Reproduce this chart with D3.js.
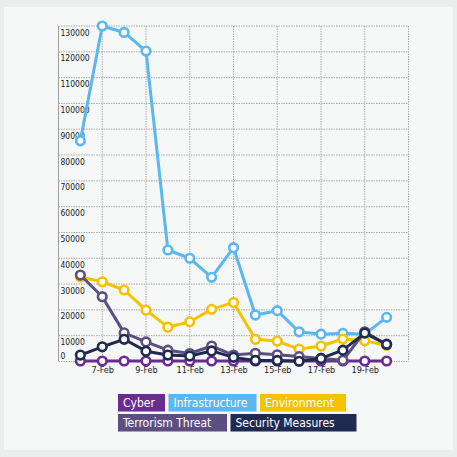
<!DOCTYPE html>
<html>
<head>
<meta charset="utf-8">
<script src="https://cdn.jsdelivr.net/npm/d3@7"></script>
<style>
  body { margin: 0; background: #eceeee; }
  svg { display: block; }
</style>
</head>
<body>
<svg id="chart"></svg>
<script>
// data
let days = ["2014-02-06", "2014-02-07", "2014-02-08", "2014-02-09", "2014-02-10", "2014-02-11", "2014-02-12",
    "2014-02-13", "2014-02-14", "2014-02-15", "2014-02-16", "2014-02-17", "2014-02-18", "2014-02-19", "2014-02-20"]
let cyber = [200, 200, 200, 200, 200, 200, 200, 200, 200, 200, 200, 200, 200, 200, 200]
let infrastructure = [85500, 130000, 127500, 120300, 43200, 40000, 32600, 44100, 18000, 19700, 11500, 10600, 10900, 10600, 17100]
let environment = [32800, 30900, 27700, 19900, 13300, 15400, 20200, 22900, 8600, 7900, 4800, 6000, 8700, 8000, 6300]
let terrorism = [33500, 25100, 11100, 7600, 4400, 3100, 6000, 2500, 3200, 2600, 1900, 1200, 500, 11500, 6500]
let security = [2500, 5700, 8600, 4000, 2500, 2100, 4100, 1600, 400, 400, 100, 1200, 4400, 11000, 6700]
let seriesNames = ["Cyber", "Infrastructure", "Environment", "Terrorism Threat", "Security Measures"]
let seriesColors = ["#6a2c91", "#5ab7f0", "#f5c200", "#5c4f80", "#1f2a50"]
let yTicks = [0, 10000, 20000, 30000, 40000, 50000, 60000, 70000, 80000, 90000, 100000, 110000, 120000, 130000]

let width = 457
let height = 457
let plot = {left: 58.5, right: 408.5, top: 26, bottom: 361.5}

let parse = d3.timeParse("%Y-%m-%d")
let dates = days.map(parse)
let allSeries = [cyber, infrastructure, environment, terrorism, security]

let xScale = d3.scaleTime()
    .domain([parse("2014-02-05"), parse("2014-02-21")])
    .range([plot.left, plot.right])
let yScale = d3.scaleLinear()
    .domain([0, 130000])
    .range([plot.bottom, plot.top])

let svg = d3.select("#chart")
    .attr("width", width)
    .attr("height", height)

svg.append("rect")
    .attr("x", 0).attr("y", 0)
    .attr("width", width).attr("height", height)
    .attr("fill", "#eceeee")
svg.append("rect")
    .attr("x", 4).attr("y", 7)
    .attr("width", 449).attr("height", 443)
    .attr("fill", "#f6f7f7")

// grid
let xTickDates = d3.timeDay.range(parse("2014-02-07"), parse("2014-02-22"), 2)

svg.append("g")
    .attr("class", "grid-x")
    .selectAll("line")
    .data(xTickDates)
    .join("line")
    .attr("x1", d => xScale(d)).attr("x2", d => xScale(d))
    .attr("y1", plot.top).attr("y2", plot.bottom)
    .attr("stroke", "#acacac")
    .attr("stroke-width", 1)
    .attr("stroke-dasharray", "1.5,1")

svg.append("g")
    .attr("class", "grid-y")
    .selectAll("line")
    .data(yTicks)
    .join("line")
    .attr("x1", plot.left).attr("x2", plot.right)
    .attr("y1", d => yScale(d)).attr("y2", d => yScale(d))
    .attr("stroke", "#acacac")
    .attr("stroke-width", 1)
    .attr("stroke-dasharray", "1.5,1")

// left axis line
svg.append("line")
    .attr("x1", plot.left).attr("x2", plot.left)
    .attr("y1", plot.top).attr("y2", plot.bottom)
    .attr("stroke", "#a0a0a0")
    .attr("stroke-width", 1)

// y labels sit inside the plot, under their gridline
svg.append("g")
    .selectAll("text")
    .data(yTicks)
    .join("text")
    .text(d => d)
    .attr("x", plot.left + 2)
    .attr("y", d => d == 0 ? yScale(d) - 3 : yScale(d) + 9.5)
    .attr("font-family", "DejaVu Sans Condensed")
    .attr("font-size", 8.5)
    .attr("fill", "#222")

// x labels
let xAxis = svg.append("g")
    .attr("transform", "translate(0," + plot.bottom + ")")
    .call(d3.axisBottom(xScale)
        .tickValues(xTickDates.filter(d => d < parse("2014-02-21")))
        .tickSize(0)
        .tickPadding(5)
        .tickFormat(d3.timeFormat("%-d-%b")))
xAxis.select(".domain").remove()
xAxis.selectAll("text")
    .attr("font-family", "DejaVu Sans Condensed")
    .attr("font-size", 9)
    .attr("fill", "#222")

let line = d3.line()
    .x((d, i) => xScale(dates[i]))
    .y(d => yScale(d))

let lines = svg.append("g").attr("id", "lines")

allSeries.forEach(function(values, k) {
    let g = lines.append("g")
    g.append("path")
        .datum(values)
        .attr("d", line)
        .attr("fill", "none")
        .attr("stroke", seriesColors[k])
        .attr("stroke-width", 3)
        .attr("stroke-linejoin", "round")
    g.selectAll("circle")
        .data(values)
        .join("circle")
        .attr("cx", (d, i) => xScale(dates[i]))
        .attr("cy", d => yScale(d))
        .attr("r", 4.3)
        .attr("fill", "#ffffff")
        .attr("stroke", seriesColors[k])
        .attr("stroke-width", 2.6)
})

// legend
let legendRows = [[0, 1, 2], [3, 4]]
let legendWidths = [47, 88, 86, 109, 126]
let legend = svg.append("g").attr("id", "legend")

legendRows.forEach(function(row, r) {
    let x = 118
    row.forEach(function(k) {
        let y = 394 + r * 20
        legend.append("rect")
            .attr("x", x).attr("y", y)
            .attr("width", legendWidths[k]).attr("height", 17.5)
            .attr("fill", seriesColors[k])
        legend.append("text")
            .text(seriesNames[k])
            .attr("x", x + 5)
            .attr("y", y + 13)
            .attr("font-family", "DejaVu Sans Condensed")
            .attr("font-size", 12)
            .attr("fill", "#ffffff")
        x += legendWidths[k] + 3.5
    })
})
</script>
</body>
</html>
